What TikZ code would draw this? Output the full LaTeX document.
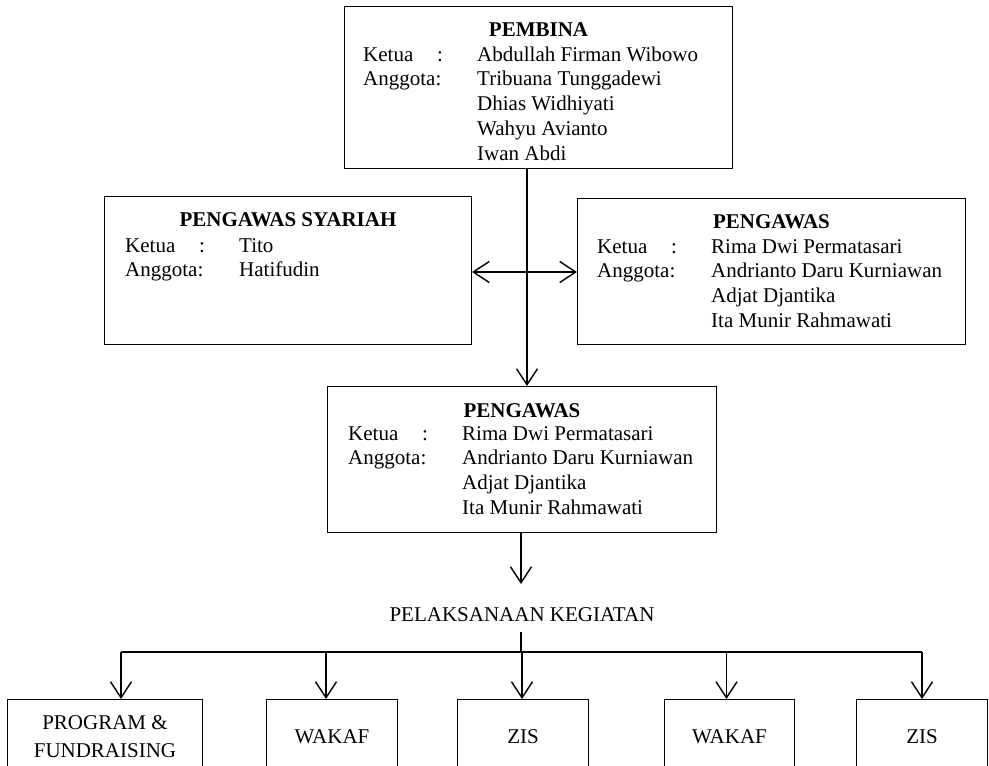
\documentclass[tikz,border=0pt]{standalone}
\usepackage{fontspec}
\setmainfont{Liberation Serif}
\usetikzlibrary{arrows.meta}
\newcommand{\ketua}{\makebox[74pt][l]{Ketua}:}
\newcommand{\bodyfont}{\fontsize{21}{24.8}\selectfont}
\tikzset{
  box/.style={draw, line width=1pt, anchor=north west, inner sep=0pt},
  head/.style={anchor=base, font=\bodyfont\bfseries},
  members/.style={anchor=base west, inner sep=0pt},
  link/.style={line width=1.4pt},
  arr/.style={link, -{Straight Barb[length=16pt,width=21pt]}},
  dblarr/.style={link, {Straight Barb[length=16pt,width=21pt]}-{Straight Barb[length=16pt,width=21pt]}},
  unit/.style={draw, line width=1pt, anchor=north west, minimum height=74pt, align=center, inner sep=0pt}
}

\begin{document}
\begin{tikzpicture}[x=1pt, y=-1pt, font=\bodyfont]
  \clip (0,0) rectangle (989,766);

  % pembina
  \node[box, minimum width=388pt, minimum height=162pt] (pembina) at (344,6) {};
  \node[head] (pembinaH) at ([yshift=-30pt]pembina.north) {PEMBINA};
  \node[members] (pembinaM) at ([shift={(19pt,-55pt)}]pembina.north west) {\begin{tabular}[t]{@{}p{114pt}@{}l@{}}
    \ketua & Abdullah Firman Wibowo\\
    Anggota: & Tribuana Tunggadewi\\
     & Dhias Widhiyati\\
     & Wahyu Avianto\\
     & Iwan Abdi
  \end{tabular}};

  % pengawas syariah
  \node[box, minimum width=367pt, minimum height=148pt] (syariah) at (104,196) {};
  \node[head] (syariahH) at ([yshift=-30pt]syariah.north) {PENGAWAS SYARIAH};
  \node[members] (syariahM) at ([shift={(21pt,-56pt)}]syariah.north west) {\begin{tabular}[t]{@{}p{114pt}@{}l@{}}
    \ketua & Tito\\
    Anggota: & Hatifudin
  \end{tabular}};

  % pengawas
  \node[box, minimum width=388pt, minimum height=146pt] (pengawas) at (577,198) {};
  \node[head] (pengawasH) at ([yshift=-30pt]pengawas.north) {PENGAWAS};
  \node[members] (pengawasM) at ([shift={(20pt,-55pt)}]pengawas.north west) {\begin{tabular}[t]{@{}p{114pt}@{}l@{}}
    \ketua & Rima Dwi Permatasari\\
    Anggota: & Andrianto Daru Kurniawan\\
     & Adjat Djantika\\
     & Ita Munir Rahmawati
  \end{tabular}};

  % pengawas (tengah)
  \node[box, minimum width=389pt, minimum height=146pt] (pengawasB) at (327,386) {};
  \node[head] (pengawasBH) at ([yshift=-31pt]pengawasB.north) {PENGAWAS};
  \node[members] (pengawasBM) at ([shift={(21pt,-54pt)}]pengawasB.north west) {\begin{tabular}[t]{@{}p{114pt}@{}l@{}}
    \ketua & Rima Dwi Permatasari\\
    Anggota: & Andrianto Daru Kurniawan\\
     & Adjat Djantika\\
     & Ita Munir Rahmawati
  \end{tabular}};

  % connectors top
  \coordinate (trunk) at (527,272);
  \draw[arr] (trunk |- pembina.south) -- (trunk |- pengawasB.north);
  \draw[dblarr] (trunk -| syariah.east) -- (trunk -| pengawas.west);

  % pelaksanaan kegiatan
  \coordinate (tip) at (521,584);
  \coordinate (bus) at (521,652);
  \node[inner sep=10pt] (kegiatan) at (522,615) {PELAKSANAAN KEGIATAN};
  \draw[arr] (pengawasB.south -| tip) -- (tip);
  \draw[link] (kegiatan.south -| bus) -- (bus);

  % units
  \node[unit, minimum width=195pt] (b1) at (7,699) {PROGRAM \&\\[3pt]FUNDRAISING};
  \node[unit, minimum width=131pt] (b2) at (266,699) {WAKAF};
  \node[unit, minimum width=131pt] (b3) at (457,699) {ZIS};
  \node[unit, minimum width=130pt] (b4) at (664,699) {WAKAF};
  \node[unit, minimum width=131pt] (b5) at (856,699) {ZIS};

  \draw[link] ([xshift=16pt]b1.north |- bus) -- (b5.north |- bus);
  \foreach \b/\dx in {b1/16, b2/-6, b3/-1, b4/-3, b5/0}
    \draw[arr] ([xshift=\dx pt]\b.north |- bus) -- ([xshift=\dx pt]\b.north);
\end{tikzpicture}
\end{document}
